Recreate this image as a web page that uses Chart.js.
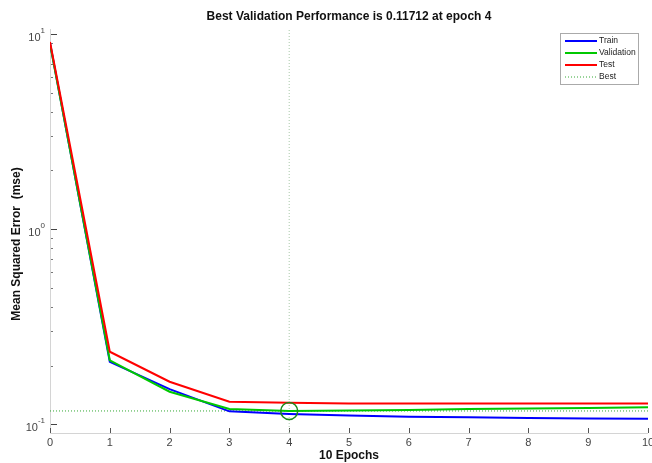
<!DOCTYPE html>
<html>
<head>
<meta charset="utf-8">
<script src="https://cdn.jsdelivr.net/npm/chart.js@4"></script>
<style>
  html, body { margin: 0; padding: 0; background: #fff; overflow: hidden; }
  canvas { display: block; }
</style>
</head>
<body>
<canvas id="perfChart" width="652" height="463"></canvas>
<script>
// Дані з графіка (оцінка по картинці)
const epochs = [0, 1, 2, 3, 4, 5, 6, 7, 8, 9, 10];
const trainPerf = [9.0, 0.209, 0.1516, 0.1166, 0.1129, 0.111, 0.1094, 0.1086, 0.1077, 0.1071, 0.1068];
const valPerf   = [8.9, 0.213, 0.1469, 0.1198, 0.11712, 0.1177, 0.1184, 0.1198, 0.1205, 0.1212, 0.1222];
const testPerf  = [9.1, 0.2355, 0.1653, 0.1305, 0.129, 0.128, 0.128, 0.128, 0.128, 0.128, 0.128];
const bestEpoch = 4;
const bestPerf = 0.11712;
const yMin = 0.0903, yMax = 10.61;
const yTickExps = [-1, 0, 1];
const titleText = 'Best Validation Performance is 0.11712 at epoch 4';
const xTitle = '10 Epochs';
const yTitle = 'Mean Squared Error  (mse)';

const toPts = arr => arr.map((v, i) => ({ x: epochs[i], y: v }));

// Малювання осей, підписів і легенди
const axesPlugin = {
    id: 'matlabAxes',
    beforeDatasetsDraw(chart) {
        const { ctx, chartArea: a, scales: { x, y } } = chart;
        ctx.save();
        ctx.strokeStyle = '#d4d4d4';
        ctx.lineWidth = 1;
        ctx.beginPath();
        ctx.moveTo(a.left + 0.5, a.top);
        ctx.lineTo(a.left + 0.5, a.bottom + 0.5);
        ctx.lineTo(a.right, a.bottom + 0.5);
        ctx.stroke();
        // x ticks
        ctx.strokeStyle = '#555';
        epochs.forEach(e => {
            const px = Math.round(x.getPixelForValue(e)) + 0.5;
            ctx.beginPath();
            ctx.moveTo(px, a.bottom);
            ctx.lineTo(px, a.bottom - 5);
            ctx.stroke();
        });
        // y ticks (major + minor)
        for (let ex = -2; ex <= 1; ex++) {
            for (let m = 1; m <= 9; m++) {
                const v = m * Math.pow(10, ex);
                if (v < yMin || v > yMax) continue;
                const py = Math.round(y.getPixelForValue(v)) + 0.5;
                ctx.strokeStyle = m === 1 ? '#444' : '#777';
                ctx.beginPath();
                ctx.moveTo(a.left + 1, py);
                ctx.lineTo(a.left + (m === 1 ? 7 : 3), py);
                ctx.stroke();
            }
        }
        ctx.restore();
    },
    afterDatasetsDraw(chart) {
        const { ctx, chartArea: a, scales: { x, y } } = chart;
        ctx.save();
        ctx.fillStyle = '#444';
        ctx.font = '11px "Liberation Sans", Arial, sans-serif';
        ctx.textAlign = 'center';
        ctx.textBaseline = 'top';
        epochs.forEach(e => ctx.fillText(String(e), x.getPixelForValue(e), a.bottom + 4));
        // y labels 10^n
        yTickExps.forEach(ex => {
            const py = y.getPixelForValue(Math.pow(10, ex));
            const exp = String(ex);
            ctx.font = '8px "Liberation Sans", Arial, sans-serif';
            const ew = ctx.measureText(exp).width;
            const right = 45;
            ctx.textAlign = 'left';
            ctx.textBaseline = 'alphabetic';
            ctx.fillText(exp, right - ew, py - 1);
            ctx.font = '11px "Liberation Sans", Arial, sans-serif';
            ctx.textAlign = 'right';
            ctx.fillText('10', right - ew, py + 7);
        });
        // titles
        ctx.fillStyle = '#111';
        ctx.font = 'bold 12px "Liberation Sans", Arial, sans-serif';
        ctx.textAlign = 'center';
        ctx.textBaseline = 'middle';
        ctx.fillText(titleText, (a.left + a.right) / 2, 17);
        ctx.fillText(xTitle, (a.left + a.right) / 2, 456);
        ctx.save();
        ctx.translate(17, 244);
        ctx.rotate(-Math.PI / 2);
        ctx.fillText(yTitle, 0, 0);
        ctx.restore();
        // legend
        const lx = 560, ly = 33, lw = 78, lh = 51;
        ctx.fillStyle = '#fff';
        ctx.fillRect(lx, ly, lw, lh);
        ctx.strokeStyle = '#aaa';
        ctx.lineWidth = 1;
        ctx.strokeRect(lx + 0.5, ly + 0.5, lw, lh);
        const items = chart.data.datasets.filter(d => d.legend);
        ctx.font = '8.5px "Liberation Sans", Arial, sans-serif';
        ctx.textAlign = 'left';
        ctx.textBaseline = 'middle';
        items.forEach((d, i) => {
            const iy = ly + 8 + i * 12;
            ctx.strokeStyle = d.borderColor;
            ctx.lineWidth = d.borderDash ? 1 : 2;
            ctx.setLineDash(d.borderDash || []);
            ctx.beginPath();
            ctx.moveTo(lx + 5, iy);
            ctx.lineTo(lx + 37, iy);
            ctx.stroke();
            ctx.setLineDash([]);
            ctx.fillStyle = '#222';
            ctx.fillText(d.label, lx + 39, iy);
        });
        ctx.restore();
    }
};

const ctx = document.getElementById('perfChart').getContext('2d');
const chart = new Chart(ctx, {
    type: 'line',
    data: {
        datasets: [
            { label: 'Train', data: toPts(trainPerf), borderColor: '#0000ff', borderWidth: 2, pointRadius: 0, order: 4, legend: true },
            { label: 'Validation', data: toPts(valPerf), borderColor: '#00c800', borderWidth: 2, pointRadius: 0, order: 3, legend: true },
            { label: 'Test', data: toPts(testPerf), borderColor: '#ff0000', borderWidth: 2, pointRadius: 0, order: 2, legend: true },
            { label: 'Best', data: [{ x: epochs[0], y: bestPerf }, { x: epochs[epochs.length - 1], y: bestPerf }],
              borderColor: '#33a833', borderWidth: 1, borderDash: [1, 2], pointRadius: 0, order: 5, legend: true },
            { label: 'bestV', data: [{ x: bestEpoch, y: yMin }, { x: bestEpoch, y: yMax }],
              borderColor: '#a8c8a8', borderWidth: 1, borderDash: [1, 2], pointRadius: 0, order: 6 },
            { label: 'bestPt', data: [{ x: bestEpoch, y: bestPerf }], showLine: false,
              pointRadius: 8.5, pointBorderWidth: 1.5, pointBorderColor: '#1a8a1a', pointBackgroundColor: 'rgba(0,0,0,0)', order: 1 }
        ]
    },
    options: {
        responsive: false,
        animation: false,
        layout: { autoPadding: false, padding: { left: 50, right: 4, top: 29, bottom: 30 } },
        scales: {
            x: { type: 'linear', min: 0, max: 10, display: false },
            y: { type: 'logarithmic', min: yMin, max: yMax, display: false }
        },
        plugins: { legend: { display: false }, tooltip: { enabled: false } }
    },
    plugins: [axesPlugin]
});
</script>
</body>
</html>
